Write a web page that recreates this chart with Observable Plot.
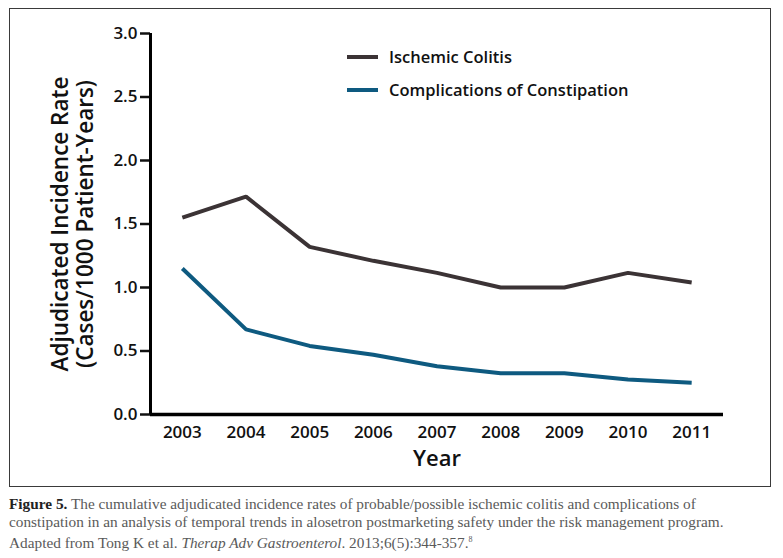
<!DOCTYPE html>
<html><head><meta charset="utf-8">
<script src="https://cdn.jsdelivr.net/npm/d3@7"></script>
<script src="https://cdn.jsdelivr.net/npm/@observablehq/plot@0.6"></script>
<style>
body{margin:0;background:#fff;}
#wrap{position:relative;width:783px;height:558px;overflow:hidden;font-family:"Open Sans",sans-serif;}
#box{position:absolute;left:9px;top:8px;width:760px;height:477px;border:1.5px solid #3a3a3a;}
#chart{position:absolute;left:0;top:0;}
.ytitle{position:absolute;left:72px;top:224px;transform:translate(-50%,-50%) rotate(-90deg);white-space:nowrap;text-align:center;font-weight:600;font-size:22.5px;line-height:25px;color:#111;}
.xtitle{position:absolute;left:437px;top:457px;transform:translate(-50%,-50%);font-weight:600;font-size:22px;color:#111;}
.legend{position:absolute;left:347px;top:40px;font-weight:600;font-size:16.5px;color:#111;}
.legend div{display:flex;align-items:center;height:33px;}
.legend span.sw{display:inline-block;width:31px;height:4px;margin-right:11px;}
#caption{position:absolute;left:9px;top:495px;width:775px;font-family:"Liberation Serif",serif;font-size:15.3px;line-height:18px;color:#5a5a5a;white-space:nowrap;}
#caption b{color:#222;}
</style></head>
<body>
<div id="wrap">
<div id="box"></div>
<div id="chart"></div>
<div class="ytitle">Adjudicated Incidence Rate<br>(Cases/1000 Patient-Years)</div>
<div class="xtitle">Year</div>
<div class="legend" id="legend"></div>
<div id="caption"><b>Figure 5.</b> The cumulative adjudicated incidence rates of probable/possible ischemic colitis and complications of<br>constipation in an analysis of temporal trends in alosetron postmarketing safety under the risk management program.<br>Adapted from Tong K et al. <i>Therap Adv Gastroenterol</i>. 2013;6(5):344-357.<span style="font-size:8px;vertical-align:6px">8</span></div>
</div>
<script>
const years = [2003, 2004, 2005, 2006, 2007, 2008, 2009, 2010, 2011];
const ischemicColitis = [1.55, 1.715, 1.32, 1.21, 1.115, 1.0, 1.0, 1.115, 1.04];
const constipation = [1.15, 0.67, 0.54, 0.47, 0.38, 0.325, 0.325, 0.275, 0.25];
const seriesNames = ["Ischemic Colitis", "Complications of Constipation"];
const seriesColors = ["#3b3335", "#0e5a80"];
const yTicks = [0, 0.5, 1.0, 1.5, 2.0, 2.5, 3.0];

const data = [];
years.forEach((y, i) => {
  data.push({year: y, value: ischemicColitis[i], series: seriesNames[0]});
  data.push({year: y, value: constipation[i], series: seriesNames[1]});
});

const chart = Plot.plot({
  width: 783,
  height: 490,
  marginLeft: 150,
  marginRight: 60,
  marginTop: 33,
  marginBottom: 76,
  style: {fontFamily: "'Open Sans', sans-serif", background: "transparent", color: "#111"},
  x: {domain: [2002.5, 2011.5]},
  y: {domain: [0, 3]},
  color: {domain: seriesNames, range: seriesColors},
  marks: [
    Plot.axisY({ticks: yTicks, tickFormat: d3.format(".1f"), tickSize: 10, tickPadding: 3, fontSize: 17, fontWeight: 600, strokeWidth: 2.5, label: null}),
    Plot.axisX({ticks: years, tickFormat: d => String(d), tickSize: 0, tickPadding: 11, fontSize: 17, fontWeight: 600, label: null}),
    Plot.ruleX([2002.5], {y1: 0, y2: 3, strokeWidth: 3, stroke: "#000"}),
    Plot.ruleY([0], {strokeWidth: 3.5, stroke: "#000"}),
    Plot.line(data, {x: "year", y: "value", z: "series", stroke: "series", strokeWidth: 4, strokeLinejoin: "miter", strokeLinecap: "butt"})
  ]
});
document.getElementById("chart").appendChild(chart);

const leg = document.getElementById("legend");
seriesNames.forEach((n, i) => {
  const row = document.createElement("div");
  row.innerHTML = `<span class="sw" style="background:${seriesColors[i]}"></span>${n}`;
  leg.appendChild(row);
});
</script>
</body></html>
